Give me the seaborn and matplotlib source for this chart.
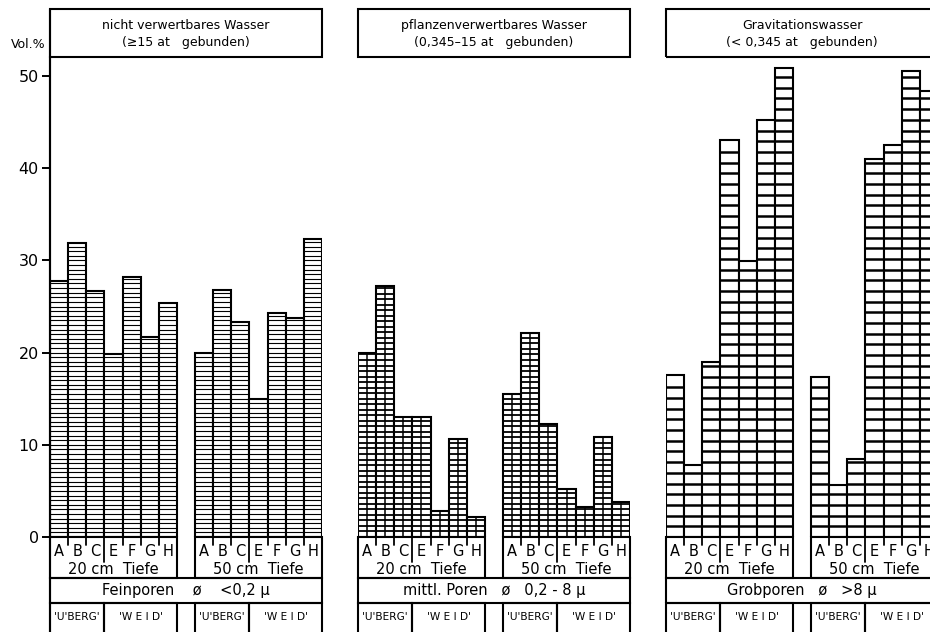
import numpy as np
import pandas as pd
import matplotlib
matplotlib.use("Agg")
import matplotlib.pyplot as plt
from matplotlib.patches import Rectangle
from matplotlib.lines import Line2D
import seaborn as sns

# ---- data (Vol.%) ----
letters = ["A", "B", "C", "E", "F", "G", "H"]
depths = ["20 cm  Tiefe", "50 cm  Tiefe"]
sites = ["'U'BERG'", "'W E I D'"]
site_sizes = [3, 4]

fein_20 = [27.8, 31.9, 26.7, 19.9, 28.2, 21.7, 25.4]
fein_50 = [20.0, 26.8, 23.3, 15.0, 24.3, 23.8, 32.3]
mittel_20 = [20.0, 27.2, 13.0, 13.0, 2.8, 10.6, 2.2]
mittel_50 = [15.5, 22.1, 12.3, 5.2, 3.3, 10.9, 3.8]
grob_20 = [17.6, 7.8, 19.0, 43.1, 29.9, 45.2, 50.9]
grob_50 = [17.3, 5.6, 8.5, 41.0, 42.5, 50.5, 48.4]

titles = [
    "nicht verwertbares Wasser\n(≥15 at   gebunden)",
    "pflanzenverwertbares Wasser\n(0,345–15 at   gebunden)",
    "Gravitationswasser\n(< 0,345 at   gebunden)",
]
pore_labels = [
    "Feinporen    ø    <0,2 µ",
    "mittl. Poren   ø   0,2 - 8 µ",
    "Grobporen   ø   >8 µ",
]
y_ticks = [0, 10, 20, 30, 40, 50]

series = [(fein_20, fein_50), (mittel_20, mittel_50), (grob_20, grob_50)]

rows = []
for p, (v20, v50) in enumerate(series):
    for d, vals in enumerate((v20, v50)):
        for letter, v in zip(letters, vals):
            rows.append({"panel": p, "slot": f"{d}-{letter}", "value": v})
df = pd.DataFrame(rows)
order = [f"0-{l}" for l in letters] + ["gap"] + [f"1-{l}" for l in letters]

# ---- style ----
sns.set_theme(style="white")
plt.rcParams["font.family"] = ["DejaVu Sans"]
plt.rcParams["text.color"] = "black"
plt.rcParams["ytick.color"] = "black"
plt.rcParams["ytick.labelcolor"] = "black"

W, H = 930, 632
fig = plt.figure(figsize=(W / 100, H / 100), dpi=100)
fig.patch.set_facecolor("white")


def fx(px):
    return px / W


def fy(py):
    return 1 - py / H


def box(x0, y0, x1, y1, lw=1.5):
    fig.add_artist(Rectangle((fx(x0), fy(y1)), fx(x1) - fx(x0), fy(y0) - fy(y1),
                             transform=fig.transFigure, fill=False,
                             edgecolor="black", linewidth=lw))


def vline(x, y0, y1, lw=1.4):
    fig.add_artist(Line2D([fx(x), fx(x)], [fy(y0), fy(y1)],
                          transform=fig.transFigure, color="black", linewidth=lw))


def ftext(x, y, s, size, **kw):
    fig.text(fx(x), fy(y), s, fontsize=size, ha="center", va="center",
             color="black", **kw)


panel_left = [50, 358, 666]
panel_w = 272
top_px, base_px = 57, 537
px_per_unit = 9.22
ymax = (base_px - top_px) / px_per_unit

# hatch spacing (data units), line width, vertical split
hatch = [(0.5, 0.8, False), (0.6, 1.3, True), (1.16, 1.8, False)]

for p in range(3):
    x0 = panel_left[p]
    ax = fig.add_axes([fx(x0), fy(base_px), panel_w / W, (base_px - top_px) / H])
    sub = df[df["panel"] == p]
    sns.barplot(data=sub, x="slot", y="value", order=order, width=1.0,
                color="white", saturation=1, edgecolor="black", linewidth=1.5,
                errorbar=None, ax=ax)
    ax.set_xlim(-0.5, 14.5)
    ax.set_ylim(0, ymax)
    ax.set_facecolor("none")

    step, hlw, split = hatch[p]
    for bar in list(ax.patches):
        bx, bw, bh = bar.get_x(), bar.get_width(), bar.get_height()
        ys = np.arange(step, bh - step * 0.25, step)
        if len(ys):
            ax.hlines(ys, bx, bx + bw, colors="black", linewidth=hlw, zorder=3)
        if split:
            ax.vlines(bx + bw / 2, 0, bh, colors="black", linewidth=1.1, zorder=3)

    ax.set_xlabel("")
    ax.set_ylabel("")
    ax.set_xticks([])
    for s in ["top", "right", "bottom"]:
        ax.spines[s].set_visible(False)
    if p == 0:
        ax.spines["left"].set_linewidth(1.5)
        ax.spines["left"].set_color("black")
        ax.set_yticks(y_ticks)
        ax.set_yticklabels([str(t) for t in y_ticks])
        ax.tick_params(axis="y", direction="out", length=6, width=1.4,
                       labelsize=11.5, left=True, pad=2, colors="black")
    else:
        ax.spines["left"].set_visible(False)
        ax.set_yticks([])

    # header box
    box(x0, 9, x0 + panel_w, top_px)
    ftext(x0 + panel_w / 2, 34, titles[p], 9, linespacing=1.45)

    unit = panel_w / 15
    for g in range(2):
        gx0 = x0 + g * 8 * unit
        gx1 = gx0 + 7 * unit
        box(gx0, base_px, gx1, 578)
        for k, letter in enumerate(letters):
            ftext(gx0 + (k + 0.5) * unit, 552, letter, 10.5)
        for k in range(1, 7):
            vline(gx0 + k * unit, base_px, 562 if k == 3 else 545, lw=1.3)
        ftext((gx0 + gx1) / 2, 570, depths[g], 10.5)
        # site boxes
        sx = gx0
        for name, n in zip(sites, site_sizes):
            box(sx, 603, sx + n * unit, 650)
            ftext(sx + n * unit / 2, 617, name, 7.6)
            sx += n * unit
    box(x0, 578, x0 + panel_w, 603)
    ftext(x0 + panel_w / 2, 590, pore_labels[p], 10.5)

# left frame line of the first panel
vline(50, 9, 640, lw=1.5)
fig.text(fx(46), fy(44), "Vol.%", fontsize=9, ha="right", va="center",
         color="black")

fig.savefig("out.png", dpi=100, facecolor="white")
